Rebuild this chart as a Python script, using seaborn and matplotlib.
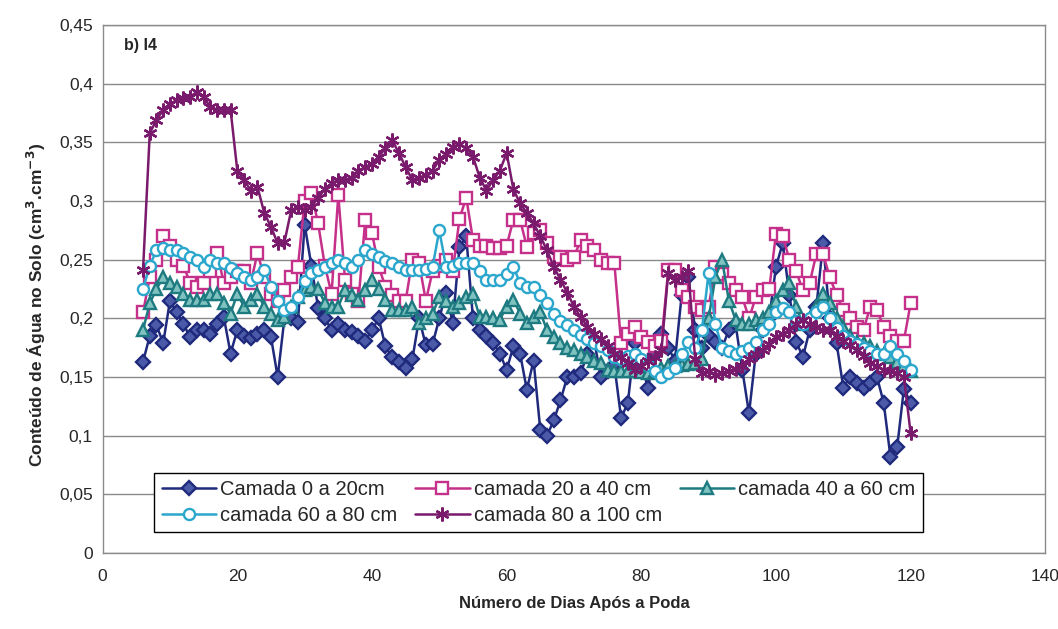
import numpy as np
import pandas as pd
import matplotlib
matplotlib.use("Agg")
import matplotlib.pyplot as plt
from matplotlib.ticker import FuncFormatter, MultipleLocator
import seaborn as sns

# dias após a poda (6 a 120)
dias = list(range(6, 121))

camada_0_20 = [
    0.163, 0.185, 0.194, 0.179, 0.215, 0.205, 0.195, 0.184, 0.19, 0.19,
    0.187, 0.195, 0.201, 0.17, 0.19, 0.185, 0.183, 0.187, 0.19, 0.184,
    0.15, 0.2, 0.2, 0.197, 0.28, 0.245, 0.209, 0.2, 0.19, 0.195,
    0.19, 0.188, 0.185, 0.181, 0.19, 0.2, 0.176, 0.167, 0.163, 0.158,
    0.165, 0.2, 0.177, 0.178, 0.2, 0.222, 0.196, 0.261, 0.27, 0.2,
    0.19, 0.185, 0.179, 0.17, 0.156, 0.176, 0.17, 0.139, 0.164, 0.105,
    0.1, 0.113, 0.13, 0.15, 0.15, 0.153, 0.17, 0.181, 0.15, 0.155,
    0.16, 0.115, 0.128, 0.179, 0.16, 0.141, 0.17, 0.187, 0.175, 0.164,
    0.22, 0.235, 0.19, 0.175, 0.185, 0.18, 0.175, 0.19, 0.195, 0.156,
    0.119, 0.17, 0.19, 0.2, 0.244, 0.264, 0.22, 0.18, 0.167, 0.19,
    0.21, 0.264, 0.2, 0.179, 0.141, 0.15, 0.145, 0.141, 0.145, 0.15,
    0.128, 0.082, 0.09, 0.14, 0.128,
]

camada_20_40 = [
    0.205, 0.235, 0.25, 0.27, 0.262, 0.25, 0.245, 0.23, 0.227, 0.23,
    0.24, 0.256, 0.23, 0.235, 0.24, 0.24, 0.23, 0.256, 0.235, 0.221,
    0.215, 0.224, 0.235, 0.244, 0.3, 0.307, 0.281, 0.245, 0.221, 0.305,
    0.233, 0.221, 0.215, 0.284, 0.273, 0.244, 0.227, 0.22, 0.215, 0.215,
    0.25, 0.247, 0.215, 0.24, 0.245, 0.25, 0.24, 0.285, 0.303, 0.267,
    0.262, 0.262, 0.26, 0.26, 0.262, 0.284, 0.284, 0.261, 0.273, 0.275,
    0.264, 0.252, 0.252, 0.25, 0.252, 0.267, 0.262, 0.258, 0.25, 0.247,
    0.247, 0.179, 0.187, 0.193, 0.184, 0.18, 0.176, 0.181, 0.241, 0.241,
    0.224, 0.218, 0.21, 0.207, 0.21, 0.244, 0.238, 0.23, 0.224, 0.218,
    0.2, 0.218, 0.224, 0.225, 0.272, 0.27, 0.25, 0.24, 0.224, 0.23,
    0.255, 0.255, 0.235, 0.22, 0.207, 0.2, 0.193, 0.19, 0.21, 0.207,
    0.193, 0.185, 0.181, 0.181, 0.213,
]

camada_40_60 = [
    0.19, 0.213, 0.225, 0.235, 0.23, 0.227, 0.221, 0.216, 0.216, 0.216,
    0.221, 0.221, 0.213, 0.204, 0.221, 0.21, 0.216, 0.221, 0.21, 0.204,
    0.199, 0.201, 0.21, 0.218, 0.224, 0.227, 0.225, 0.213, 0.21, 0.21,
    0.224, 0.22, 0.216, 0.224, 0.233, 0.225, 0.216, 0.207, 0.207, 0.207,
    0.21, 0.196, 0.2, 0.204, 0.218, 0.215, 0.21, 0.213, 0.218, 0.221,
    0.201, 0.201, 0.2, 0.199, 0.21, 0.216, 0.204, 0.196, 0.201, 0.205,
    0.19, 0.184, 0.179, 0.175, 0.173, 0.17, 0.167, 0.164, 0.162, 0.156,
    0.155, 0.155, 0.155, 0.155, 0.154, 0.153, 0.155, 0.158, 0.159, 0.159,
    0.16, 0.161, 0.162, 0.165, 0.2, 0.235, 0.25, 0.215, 0.199, 0.195,
    0.195, 0.199, 0.2, 0.205, 0.215, 0.224, 0.23, 0.21, 0.195, 0.2,
    0.21, 0.221, 0.213, 0.2, 0.193, 0.185, 0.18, 0.179, 0.176, 0.172,
    0.17, 0.167, 0.163, 0.16, 0.155,
]

camada_60_80 = [
    0.225, 0.245, 0.258, 0.26, 0.258, 0.258, 0.256, 0.252, 0.25, 0.244,
    0.25, 0.247, 0.247, 0.243, 0.239, 0.235, 0.233, 0.235, 0.241, 0.227,
    0.215, 0.207, 0.21, 0.218, 0.232, 0.239, 0.241, 0.244, 0.247, 0.25,
    0.247, 0.244, 0.25, 0.258, 0.255, 0.252, 0.249, 0.247, 0.244, 0.241,
    0.241, 0.241, 0.242, 0.244, 0.275, 0.244, 0.245, 0.247, 0.247, 0.247,
    0.24, 0.233, 0.233, 0.233, 0.238, 0.244, 0.23, 0.227, 0.227, 0.22,
    0.213, 0.204, 0.198, 0.194, 0.19, 0.186, 0.182, 0.179, 0.176, 0.173,
    0.167, 0.165, 0.168, 0.17, 0.165, 0.16, 0.155, 0.15, 0.153, 0.158,
    0.17, 0.18, 0.175, 0.19, 0.239, 0.195, 0.175, 0.172, 0.17, 0.172,
    0.175, 0.18, 0.19, 0.195, 0.205, 0.209, 0.205, 0.198, 0.195, 0.2,
    0.205, 0.21, 0.2, 0.192, 0.185, 0.181, 0.178, 0.175, 0.172, 0.17,
    0.17, 0.176, 0.17, 0.164, 0.156,
]

camada_80_100 = [
    0.241, 0.358, 0.369, 0.378, 0.383, 0.386, 0.388, 0.389, 0.393, 0.389,
    0.38, 0.378, 0.378, 0.378, 0.326, 0.318, 0.309, 0.312, 0.29, 0.278,
    0.264, 0.265, 0.292, 0.295, 0.292, 0.295, 0.303, 0.31, 0.315, 0.318,
    0.318, 0.32, 0.326, 0.329, 0.332, 0.338, 0.345, 0.352, 0.341, 0.329,
    0.318, 0.32, 0.322, 0.326, 0.335, 0.34, 0.346, 0.349, 0.345, 0.338,
    0.32, 0.309, 0.318, 0.326, 0.341, 0.31, 0.298, 0.29, 0.281, 0.27,
    0.258, 0.244, 0.233, 0.222, 0.21, 0.201, 0.193, 0.187, 0.182, 0.176,
    0.17, 0.167, 0.162, 0.156, 0.159, 0.164, 0.167, 0.173, 0.239, 0.233,
    0.235, 0.24, 0.165, 0.153, 0.155, 0.152, 0.153, 0.155, 0.157, 0.159,
    0.165, 0.17, 0.173, 0.178, 0.184, 0.187, 0.19, 0.195, 0.199, 0.195,
    0.193, 0.19, 0.19, 0.185, 0.181, 0.177, 0.173, 0.168, 0.162, 0.159,
    0.156, 0.155, 0.153, 0.15, 0.102,
]

nomes = ["Camada 0 a 20cm", "camada 20 a 40 cm", "camada 40 a 60 cm",
         "camada 60 a 80 cm", "camada 80 a 100 cm"]

df = pd.DataFrame({
    "dia": dias,
    nomes[0]: camada_0_20,
    nomes[1]: camada_20_40,
    nomes[2]: camada_40_60,
    nomes[3]: camada_60_80,
    nomes[4]: camada_80_100,
})

estilos = {
    nomes[0]: dict(color="#1f2a7c", marker="D", mfc="#4a5aa8", mec="#1f2a7c", ms=7.5),
    nomes[1]: dict(color="#c5308a", marker="s", mfc="white", mec="#c5308a", ms=8),
    nomes[2]: dict(color="#1d7a80", marker="^", mfc="#7fc2c0", mec="#1d7a80", ms=8.5),
    nomes[3]: dict(color="#2ba6cc", marker="o", mfc="white", mec="#2ba6cc", ms=8),
    nomes[4]: dict(color="#7a1a6c", marker=(6, 2, 0), mfc="#7a1a6c", mec="#7a1a6c", ms=10),
}

sns.set_style("white")
plt.rcParams["font.family"] = ["Liberation Sans", "DejaVu Sans"]

fig, ax = plt.subplots(figsize=(10.58, 6.29), dpi=100)
plt.subplots_adjust(left=0.097, right=0.988, top=0.96, bottom=0.121)

for nome in nomes:
    e = estilos[nome]
    sns.lineplot(x="dia", y=nome, data=df, ax=ax, label=nome,
                 color=e["color"], marker=e["marker"], markerfacecolor=e["mfc"],
                 markeredgecolor=e["mec"], markersize=e["ms"], markeredgewidth=1.7,
                 linewidth=1.8)

ax.set_xlim(0, 140)
ax.set_ylim(0, 0.45)
ax.xaxis.set_major_locator(MultipleLocator(20))
ax.xaxis.set_minor_locator(MultipleLocator(4))
ax.yaxis.set_major_locator(MultipleLocator(0.05))
ax.yaxis.set_major_formatter(FuncFormatter(lambda v, p: ("%g" % round(v, 2)).replace(".", ",")))

ax.grid(axis="y", color="#8a8a8a", linewidth=1)
ax.grid(axis="x", visible=False)
for s in ax.spines.values():
    s.set_color("#8a8a8a")
    s.set_linewidth(1)

ax.tick_params(axis="x", which="major", direction="inout", length=7, width=1, color="#666666",
               labelsize=12.5, pad=8)
ax.tick_params(axis="x", which="minor", direction="inout", length=4, width=1, color="#666666")
ax.tick_params(axis="y", length=0, labelsize=12.5, pad=7)

ax.set_xlabel("Número de Dias Após a Poda", fontsize=12, fontweight="bold", labelpad=9)
ax.set_ylabel("Conteúdo de Água no Solo (cm$^\\mathbf{3}$.cm$^\\mathbf{-3}$)", fontsize=12.5,
              fontweight="bold")
ax.yaxis.set_label_coords(-0.058, 0.47)

ax.text(0.023, 0.962, "b) I4", transform=ax.transAxes, fontsize=11.5,
        fontweight="bold", va="center", ha="left")

h, l = ax.get_legend_handles_labels()
ordem = [0, 3, 1, 4, 2]
leg = ax.legend([h[i] for i in ordem], [l[i] for i in ordem], ncol=3,
                loc="lower left", bbox_to_anchor=(0.055, 0.04), fontsize=14.5,
                frameon=True, fancybox=False, edgecolor="black", framealpha=1,
                handlelength=2.7, handletextpad=0.2, columnspacing=0.9,
                borderpad=0.35, labelspacing=0.35, borderaxespad=0)
leg.get_frame().set_linewidth(1)

fig.savefig("out.png", dpi=100)
